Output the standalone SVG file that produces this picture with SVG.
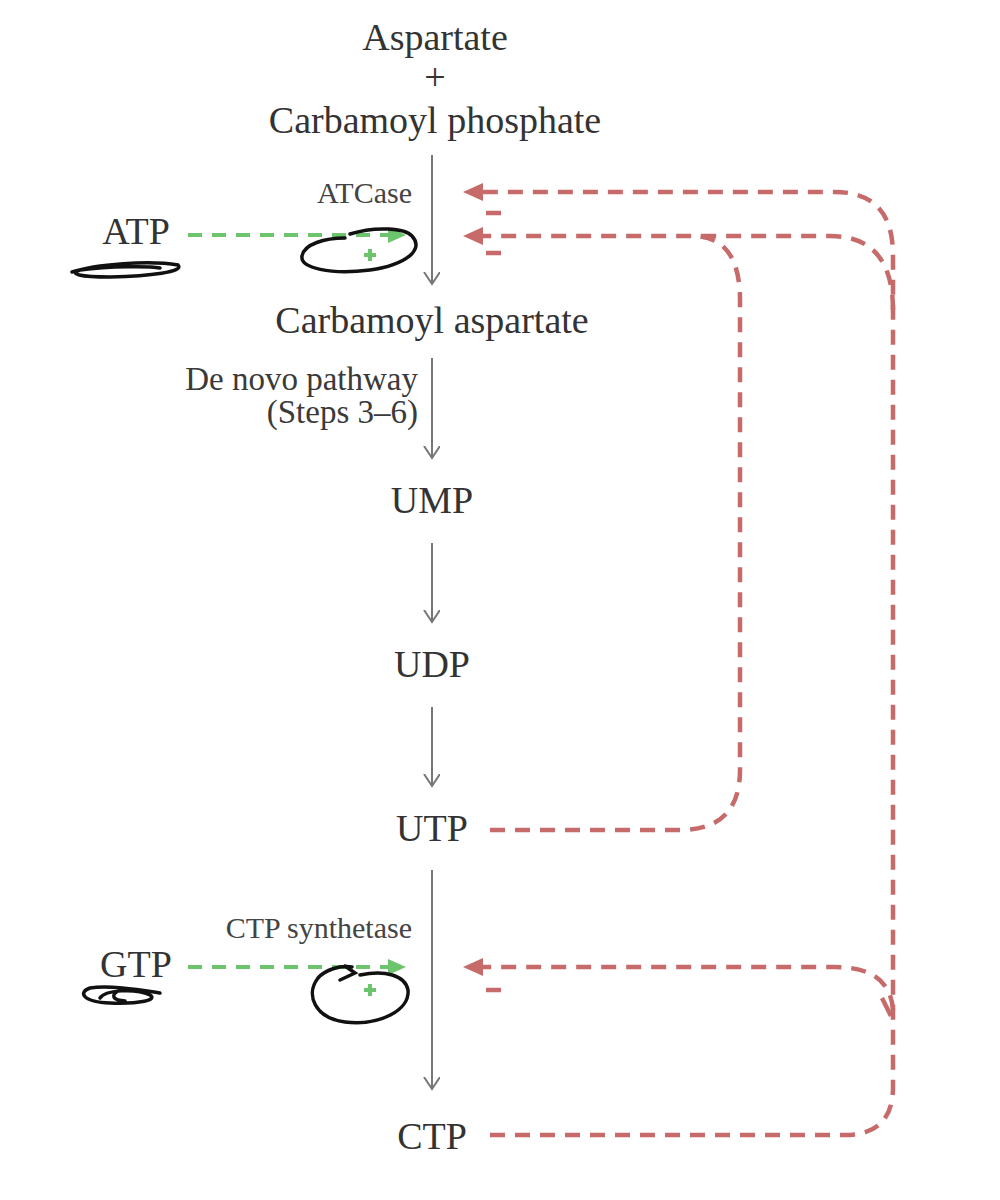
<svg xmlns="http://www.w3.org/2000/svg" width="1000" height="1200" viewBox="0 0 1000 1200">
<style>
.t{font-family:"Liberation Serif","Times New Roman",serif;fill:#333;font-size:38px}
.s{font-family:"Liberation Serif","Times New Roman",serif;fill:#444;font-size:30px}
.m{font-family:"Liberation Serif","Times New Roman",serif;fill:#3a3a3a;font-size:33px}
.main{stroke:#777;stroke-width:2;fill:none}
.red{stroke:#c66a6a;stroke-width:4.5;fill:none;stroke-dasharray:15 10}
.green{stroke:#6cc46c;stroke-width:4;fill:none;stroke-dasharray:14 10}
.plus{stroke:#6cc46c;stroke-width:4}
.minus{stroke:#c66a6a;stroke-width:4.5}
.scr{stroke:#111;stroke-width:3.5;fill:none;stroke-linecap:round}
</style>
<defs>
<marker id="ag" markerUnits="userSpaceOnUse" markerWidth="20" markerHeight="18" refX="6" refY="8" orient="auto"><path d="M0,0 L18,8 L0,16 z" fill="#6cc46c"/></marker>
<marker id="ar" markerUnits="userSpaceOnUse" markerWidth="22" markerHeight="20" refX="6" refY="9" orient="auto"><path d="M0,0 L20,9 L0,18 z" fill="#c66a6a"/></marker>
<marker id="av" markerUnits="userSpaceOnUse" markerWidth="20" markerHeight="20" refX="12" refY="8" orient="auto"><path d="M0,0 L12,8 L0,16" fill="none" stroke="#777" stroke-width="2"/></marker>
</defs>

<g id="aspartate"><text class="t" x="435" y="50" text-anchor="middle">Aspartate</text>
<text class="t" x="435" y="90" text-anchor="middle">+</text>
<text class="t" x="435" y="133" text-anchor="middle">Carbamoyl phosphate</text></g>
<g id="carbamoyl-aspartate"><text class="t" x="432" y="333" text-anchor="middle">Carbamoyl aspartate</text></g>
<g id="ump"><text class="t" x="432" y="513" text-anchor="middle">UMP</text></g>
<g id="udp"><text class="t" x="432" y="677" text-anchor="middle">UDP</text></g>
<g id="utp"><text class="t" x="432" y="841" text-anchor="middle">UTP</text></g>
<g id="ctp"><text class="t" x="432" y="1149" text-anchor="middle">CTP</text></g>
<g id="atp"><text class="t" x="136" y="244" text-anchor="middle">ATP</text></g>
<g id="gtp"><text class="t" x="136" y="977" text-anchor="middle">GTP</text></g>

<g id="labels">
<text class="s" x="412" y="203" text-anchor="end">ATCase</text>
<text class="m" x="418" y="390" text-anchor="end">De novo pathway</text>
<text class="m" x="418" y="423" text-anchor="end">(Steps 3–6)</text>
<text class="s" x="412" y="938" text-anchor="end">CTP synthetase</text>
</g>

<g id="connectors">
<line class="main" x1="432" y1="155" x2="432" y2="284" marker-end="url(#av)"/>
<line class="main" x1="432" y1="358" x2="432" y2="458" marker-end="url(#av)"/>
<line class="main" x1="432" y1="543" x2="432" y2="622" marker-end="url(#av)"/>
<line class="main" x1="432" y1="707" x2="432" y2="786" marker-end="url(#av)"/>
<line class="main" x1="432" y1="870" x2="432" y2="1089" marker-end="url(#av)"/>

<path class="green" d="M188 235 H394" marker-end="url(#ag)"/>
<path class="green" d="M188 967 H394" marker-end="url(#ag)"/>
<path class="plus" d="M364 255 H376 M370 249 V261 M364 990 H376 M370 984 V996"/>

<path class="red" d="M490 1135 H845 Q893 1135 893 1087 V255 Q893 192 835 192 H477" marker-end="url(#ar)"/>
<path class="red" d="M893 310 Q893 236 830 236 H477" marker-end="url(#ar)"/>
<path class="red" d="M490 830 H680 Q740 830 740 770 V300 Q740 238 695 236"/>
<path class="red" d="M893 1010 Q890 967 835 967 H477" marker-end="url(#ar)"/>
<path class="minus" d="M882 998 L891 1016 M486 213 H501 M486 253 H501 M486 990 H501"/>
</g>

<g id="scribbles">
<path class="scr" d="M350 234 C375 226 405 228 412 236 C425 250 405 265 370 270 C330 275 300 268 302 256 C304 244 325 238 345 238"/>
<path class="scr" d="M72 272 C95 264 150 260 178 265 C185 272 150 276 110 277 C80 277 68 274 80 270 C110 266 150 266 160 268"/>
<path class="scr" d="M352 967 C340 965 325 970 318 978 C305 995 315 1018 345 1022 C380 1026 410 1010 408 990 C405 975 385 970 360 975"/>
<path class="scr" d="M340 980 L355 973 L345 966"/>
<path class="scr" d="M160 993 C140 990 110 985 90 988 C78 992 82 1002 110 1003 C140 1004 158 1000 150 995 C135 988 105 990 100 998 M120 990 C110 995 112 1000 125 1001"/>
</g>
</svg>
